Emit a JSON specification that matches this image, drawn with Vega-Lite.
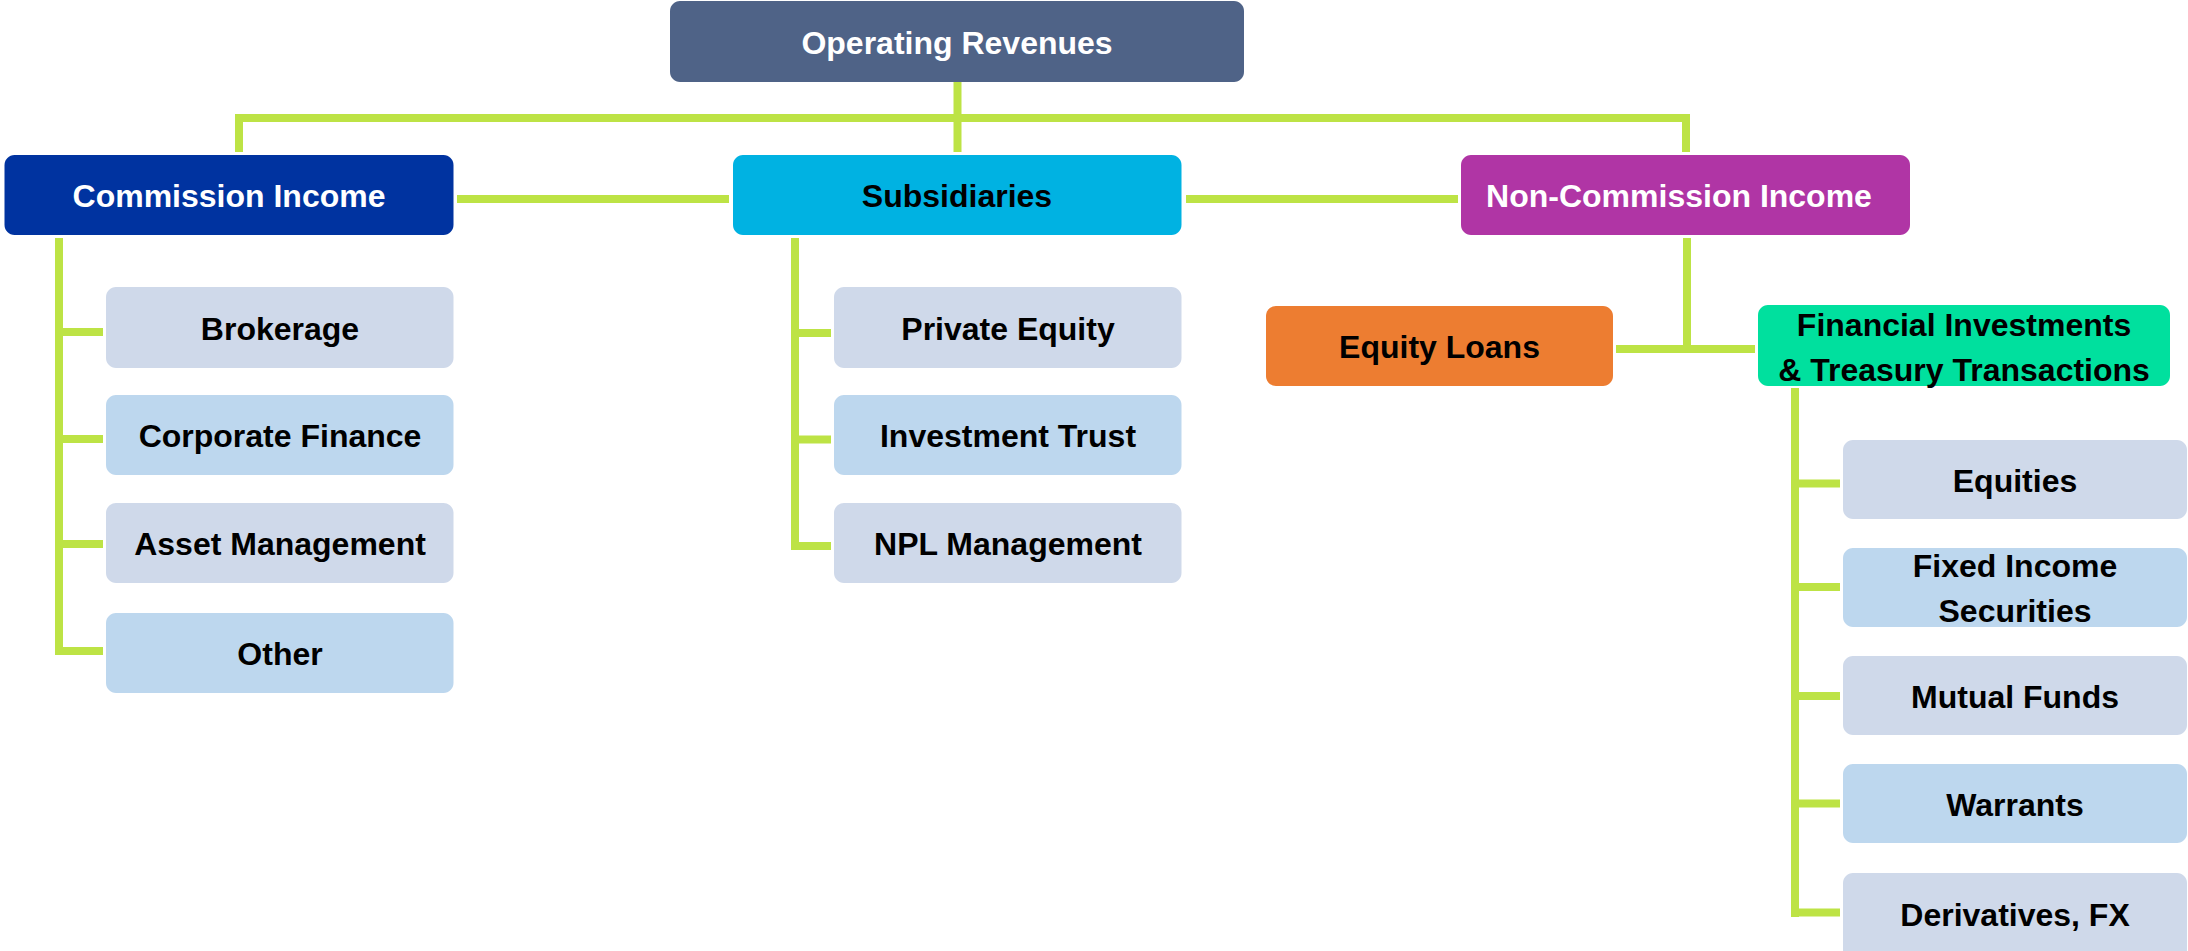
{
  "$schema": "https://vega.github.io/schema/vega-lite/v6.json",
  "width": 2188,
  "height": 951,
  "autosize": {"type": "fit", "contains": "padding"},
  "padding": 0,
  "background": "white",
  "config": {"view": {"stroke": null}},
  "datasets": {
    "links": [
      {"x1": 235, "y1": 118, "x2": 1690, "y2": 118},
      {"x1": 239, "y1": 114, "x2": 239, "y2": 152},
      {"x1": 957.5, "y1": 82, "x2": 957.5, "y2": 152},
      {"x1": 1686, "y1": 114, "x2": 1686, "y2": 152},
      {"x1": 457, "y1": 199, "x2": 729, "y2": 199},
      {"x1": 1186, "y1": 199, "x2": 1458, "y2": 199},
      {"x1": 59, "y1": 238, "x2": 59, "y2": 655},
      {"x1": 55, "y1": 332, "x2": 103, "y2": 332},
      {"x1": 55, "y1": 439, "x2": 103, "y2": 439},
      {"x1": 55, "y1": 544, "x2": 103, "y2": 544},
      {"x1": 55, "y1": 651, "x2": 103, "y2": 651},
      {"x1": 795, "y1": 238, "x2": 795, "y2": 550},
      {"x1": 791, "y1": 333, "x2": 831, "y2": 333},
      {"x1": 791, "y1": 439.5, "x2": 831, "y2": 439.5},
      {"x1": 791, "y1": 546, "x2": 831, "y2": 546},
      {"x1": 1687, "y1": 238, "x2": 1687, "y2": 353},
      {"x1": 1616, "y1": 349, "x2": 1755, "y2": 349},
      {"x1": 1795, "y1": 388, "x2": 1795, "y2": 917},
      {"x1": 1791, "y1": 483.5, "x2": 1840, "y2": 483.5},
      {"x1": 1791, "y1": 587, "x2": 1840, "y2": 587},
      {"x1": 1791, "y1": 696, "x2": 1840, "y2": 696},
      {"x1": 1791, "y1": 803.5, "x2": 1840, "y2": 803.5},
      {"x1": 1791, "y1": 912.5, "x2": 1840, "y2": 912.5}
    ],
    "boxes": [
      {"name": "Operating Revenues", "kind": "root", "x1": 670, "x2": 1244, "y1": 1, "y2": 82, "cx": 957, "cy": 41.5},
      {"name": "Commission Income", "kind": "commission", "x1": 4.5, "x2": 453.5, "y1": 155, "y2": 235, "cx": 229, "cy": 195},
      {"name": "Subsidiaries", "kind": "subsidiaries", "x1": 733, "x2": 1181.5, "y1": 155, "y2": 235, "cx": 957, "cy": 195},
      {"name": "Non-Commission Income", "kind": "noncommission", "x1": 1461, "x2": 1910, "y1": 155, "y2": 235, "cx": 1679, "cy": 195},
      {"name": "Brokerage", "kind": "grey", "x1": 106, "x2": 453.5, "y1": 287, "y2": 368, "cx": 280, "cy": 327.5},
      {"name": "Corporate Finance", "kind": "blue", "x1": 106, "x2": 453.5, "y1": 395, "y2": 475, "cx": 280, "cy": 435},
      {"name": "Asset Management", "kind": "grey", "x1": 106, "x2": 453.5, "y1": 503, "y2": 583, "cx": 280, "cy": 543},
      {"name": "Other", "kind": "blue", "x1": 106, "x2": 453.5, "y1": 613, "y2": 693, "cx": 280, "cy": 653},
      {"name": "Private Equity", "kind": "grey", "x1": 834, "x2": 1181.5, "y1": 287, "y2": 368, "cx": 1008, "cy": 327.5},
      {"name": "Investment Trust", "kind": "blue", "x1": 834, "x2": 1181.5, "y1": 395, "y2": 475, "cx": 1008, "cy": 435},
      {"name": "NPL Management", "kind": "grey", "x1": 834, "x2": 1181.5, "y1": 503, "y2": 583, "cx": 1008, "cy": 543},
      {"name": "Equity Loans", "kind": "loans", "x1": 1266, "x2": 1613, "y1": 306, "y2": 386, "cx": 1439.5, "cy": 346},
      {"name": "Financial Investments\n& Treasury Transactions", "kind": "investments", "x1": 1758, "x2": 2170, "y1": 305, "y2": 386, "cx": 1964, "cy": 346},
      {"name": "Equities", "kind": "grey", "x1": 1843, "x2": 2187, "y1": 440, "y2": 519, "cx": 2015, "cy": 479.5},
      {"name": "Fixed Income\nSecurities", "kind": "blue", "x1": 1843, "x2": 2187, "y1": 548, "y2": 627, "cx": 2015, "cy": 587.5},
      {"name": "Mutual Funds", "kind": "grey", "x1": 1843, "x2": 2187, "y1": 656, "y2": 735, "cx": 2015, "cy": 695.5},
      {"name": "Warrants", "kind": "blue", "x1": 1843, "x2": 2187, "y1": 764, "y2": 843, "cx": 2015, "cy": 803.5},
      {"name": "Derivatives, FX", "kind": "grey", "x1": 1843, "x2": 2187, "y1": 873, "y2": 965, "cx": 2015, "cy": 914}
    ]
  },
  "layer": [
    {
      "data": {"name": "links"},
      "mark": {"type": "rule", "color": "#BDE345", "strokeWidth": 8, "strokeCap": "butt"},
      "encoding": {
        "x": {"field": "x1", "type": "quantitative", "scale": {"domain": [0, 2188], "nice": false, "zero": false}, "axis": null},
        "x2": {"field": "x2"},
        "y": {"field": "y1", "type": "quantitative", "scale": {"domain": [0, 951], "nice": false, "zero": false, "reverse": true}, "axis": null},
        "y2": {"field": "y2"}
      }
    },
    {
      "data": {"name": "boxes"},
      "mark": {"type": "rect", "cornerRadius": 10, "clip": true},
      "encoding": {
        "x": {"field": "x1", "type": "quantitative", "scale": {"domain": [0, 2188], "nice": false, "zero": false}, "axis": null},
        "x2": {"field": "x2"},
        "y": {"field": "y1", "type": "quantitative", "scale": {"domain": [0, 951], "nice": false, "zero": false, "reverse": true}, "axis": null},
        "y2": {"field": "y2"},
        "fill": {
          "field": "kind",
          "type": "nominal",
          "scale": {
            "domain": ["root", "commission", "subsidiaries", "noncommission", "loans", "investments", "grey", "blue"],
            "range": ["#4F6387", "#0033A0", "#00B2E2", "#B035A5", "#ED7D31", "#00E09E", "#CFD9EA", "#BDD7EE"]
          },
          "legend": null
        }
      }
    },
    {
      "data": {"name": "boxes"},
      "transform": [{"filter": "indexof(datum.name, '\\n') < 0"}],
      "mark": {"type": "text", "font": "Liberation Sans", "fontWeight": "bold", "fontSize": 32, "align": "center", "baseline": "middle", "dy": 2},
      "encoding": {
        "x": {"field": "cx", "type": "quantitative", "scale": {"domain": [0, 2188], "nice": false, "zero": false}, "axis": null},
        "y": {"field": "cy", "type": "quantitative", "scale": {"domain": [0, 951], "nice": false, "zero": false, "reverse": true}, "axis": null},
        "text": {"field": "name", "type": "nominal"},
        "color": {
          "condition": {"test": "datum.kind === 'root' || datum.kind === 'commission' || datum.kind === 'noncommission'", "value": "#FFFFFF"},
          "value": "#000000"
        }
      }
    },
    {
      "data": {"name": "boxes"},
      "transform": [{"filter": "indexof(datum.name, '\\n') >= 0"}],
      "mark": {"type": "text", "font": "Liberation Sans", "fontWeight": "bold", "fontSize": 32, "lineBreak": "\n", "lineHeight": 45, "align": "center", "baseline": "middle", "dy": -20.5},
      "encoding": {
        "x": {"field": "cx", "type": "quantitative", "scale": {"domain": [0, 2188], "nice": false, "zero": false}, "axis": null},
        "y": {"field": "cy", "type": "quantitative", "scale": {"domain": [0, 951], "nice": false, "zero": false, "reverse": true}, "axis": null},
        "text": {"field": "name", "type": "nominal"},
        "color": {"value": "#000000"}
      }
    }
  ]
}
